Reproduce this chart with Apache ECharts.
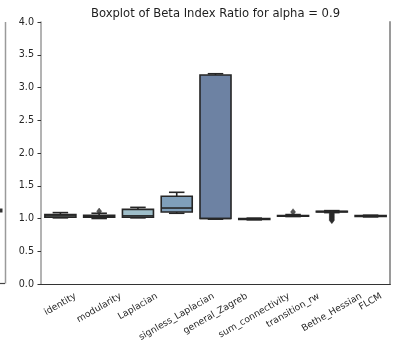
<!DOCTYPE html>
<html>
<head>
<meta charset="utf-8">
<script src="https://cdn.jsdelivr.net/npm/echarts@6/dist/echarts.min.js"></script>
<style>
  html, body { margin: 0; padding: 0; background: #ffffff; }
  #chart { width: 393px; height: 352px; }
</style>
</head>
<body>
<div id="chart"></div>
<script>
// Method names along the x axis
const categories = ['identity', 'modularity', 'Laplacian', 'signless_Laplacian', 'general_Zagreb',
  'sum_connectivity', 'transition_rw', 'Bethe_Hessian', 'FLCM'];

// Five-number summaries per method: [lower whisker, Q1, median, Q3, upper whisker]
const identityStats        = [1.01, 1.02, 1.04, 1.06, 1.09];
const modularityStats      = [1.00, 1.02, 1.03, 1.05, 1.08];
const laplacianStats       = [1.01, 1.02, 1.04, 1.14, 1.17];
const signlessStats        = [1.08, 1.10, 1.16, 1.34, 1.40];
const zagrebStats          = [0.99, 1.00, 1.00, 3.19, 3.21];
const sumConnectivityStats = [0.98, 0.985, 0.99, 1.00, 1.005];
const transitionStats      = [1.03, 1.035, 1.04, 1.045, 1.06];
const betheStats           = [1.09, 1.10, 1.105, 1.11, 1.12];
const flcmStats            = [1.025, 1.03, 1.035, 1.045, 1.05];

// Outlying runs: [category index, ratio]
const modularityOutliers = [[1, 1.11]];
const transitionOutliers = [[6, 1.10]];
const betheOutliers = [[7, 1.08], [7, 1.07], [7, 1.06], [7, 1.05], [7, 1.04], [7, 1.03],
  [7, 1.02], [7, 1.01], [7, 1.00], [7, 0.99], [7, 0.98], [7, 0.97]];

// Box fill colours, light teal-grey to dark indigo
const boxColors = ['#d0e0d8', '#b6cfcd', '#9fbfca', '#7f9fba', '#6d82a3',
  '#5e6c95', '#50537f', '#413c66', '#31294c'];

// Y axis range and tick spacing
const yMin = 0, yMax = 4, yStep = 0.5;

const chartTitle = 'Boxplot of Beta Index Ratio for alpha = 0.9';

const allStats = [identityStats, modularityStats, laplacianStats, signlessStats, zagrebStats,
  sumConnectivityStats, transitionStats, betheStats, flcmStats];
const boxData = allStats.map((s, i) => [i].concat(s));
const outlierData = modularityOutliers.concat(transitionOutliers, betheOutliers);

const EDGE = '#262626';
const FONT = '"DejaVu Sans", sans-serif';

// Box, whiskers, half-width caps and median line for one method
function renderBox(params, api) {
  const i = api.value(0);
  const mn = api.value(1), q1 = api.value(2), md = api.value(3), q3 = api.value(4), mx = api.value(5);
  const cx = api.coord([i, 0])[0];
  const band = api.size([1, 0])[0];
  const bw = band * 0.8;
  const cw = bw / 2;
  const y = v => api.coord([i, v])[1];
  const ls = { stroke: EDGE, lineWidth: 1.6 };
  return {
    type: 'group',
    children: [
      { type: 'line', shape: { x1: cx, y1: y(q3), x2: cx, y2: y(mx) }, style: ls },
      { type: 'line', shape: { x1: cx, y1: y(q1), x2: cx, y2: y(mn) }, style: ls },
      { type: 'line', shape: { x1: cx - cw / 2, y1: y(mx), x2: cx + cw / 2, y2: y(mx) }, style: ls },
      { type: 'line', shape: { x1: cx - cw / 2, y1: y(mn), x2: cx + cw / 2, y2: y(mn) }, style: ls },
      { type: 'rect', shape: { x: cx - bw / 2, y: y(q3), width: bw, height: y(q1) - y(q3) },
        style: { fill: boxColors[i], stroke: EDGE, lineWidth: 1.6 } },
      { type: 'line', shape: { x1: cx - bw / 2, y1: y(md), x2: cx + bw / 2, y2: y(md) }, style: ls }
    ]
  };
}

const chart = echarts.init(document.getElementById('chart'), null, { renderer: 'canvas' });

const option = {
  animation: false,
  backgroundColor: '#ffffff',
  title: {
    text: chartTitle,
    left: 210.5,
    top: 3,
    textAlign: 'center',
    textStyle: { fontFamily: FONT, fontSize: 11.6, fontWeight: 'normal', color: '#1e1e1e' }
  },
  grid: { left: 41, right: 3, top: 22, bottom: 68, containLabel: false },
  xAxis: [
    {
      type: 'category',
      data: categories,
      position: 'bottom',
      axisLine: { lineStyle: { color: '#333333', width: 1.2 } },
      axisTick: { alignWithLabel: true, length: 3.5, lineStyle: { color: '#333333', width: 1 } },
      axisLabel: { show: false },
      splitLine: { show: false }
    },
    {
      type: 'category',
      data: categories,
      position: 'top',
      axisLine: { lineStyle: { color: '#333333', width: 1.2 } },
      axisTick: { show: false },
      axisLabel: { show: false }
    }
  ],
  yAxis: [
    {
      type: 'value',
      min: yMin, max: yMax, interval: yStep,
      position: 'left',
      axisLine: { show: true, lineStyle: { color: '#9a9a9a', width: 1.5 } },
      axisTick: { show: true, length: 3.5, lineStyle: { color: '#333333', width: 1 } },
      axisLabel: { margin: 7, fontFamily: FONT, fontSize: 9.6, color: '#262626',
        formatter: v => v.toFixed(1) },
      splitLine: { show: false }
    },
    {
      type: 'value',
      min: yMin, max: yMax, interval: yStep,
      position: 'right',
      axisLine: { show: true, lineStyle: { color: '#9a9a9a', width: 2 } },
      axisTick: { show: false },
      axisLabel: { show: false },
      splitLine: { show: false }
    }
  ],
  series: [
    {
      type: 'custom',
      renderItem: renderBox,
      data: boxData,
      encode: { x: 0, y: [1, 2, 3, 4, 5] },
      clip: false,
      z: 2
    },
    {
      type: 'scatter',
      data: outlierData,
      symbol: 'diamond',
      symbolSize: [5, 6.5],
      itemStyle: { color: '#2a2a2a', borderColor: '#2a2a2a', borderWidth: 0.5 },
      z: 3
    }
  ]
};

chart.setOption(option);

// Rotated category labels: each label's rotated box is centred under its tick,
// with the box top just below the tick mark.
const measure = document.createElement('canvas').getContext('2d');
const labelSize = 9.2;
measure.font = labelSize + 'px "DejaVu Sans"';
const axisY = chart.convertToPixel({ yAxisIndex: 0 }, 0);
const rot = Math.PI / 6;
const cosR = Math.cos(rot), sinR = Math.sin(rot);
const labelEls = categories.map((name, i) => {
  const tickX = chart.convertToPixel({ xAxisIndex: 0 }, i);
  const w = measure.measureText(name).width;
  const hLayout = labelSize * 1.17;
  const boxH = w * sinR + hLayout * cosR;
  const cy = axisY + 7 + boxH / 2;
  const cx = tickX;
  // top-left corner of the unrotated text box, carried through the rotation
  const hText = labelSize;
  const ox = cx - (w / 2) * cosR - (hText / 2) * sinR;
  const oy = cy + (w / 2) * sinR - (hText / 2) * cosR;
  return {
    type: 'text', x: ox, y: oy, rotation: rot,
    style: { text: name, font: labelSize + 'px ' + FONT, fill: '#262626' }
  };
});

// Edge of the neighbouring panel on the left
const neighbourEls = [
  { type: 'line', shape: { x1: 5.5, y1: 22, x2: 5.5, y2: 283.5 }, style: { stroke: '#9a9a9a', lineWidth: 1.5 } },
  { type: 'line', shape: { x1: 0, y1: 283.5, x2: 5, y2: 283.5 }, style: { stroke: '#444444', lineWidth: 1.2 } },
  { type: 'rect', shape: { x: 0, y: 208.5, width: 2.5, height: 4 }, style: { fill: '#333333' } }
];

chart.setOption({ graphic: { elements: labelEls.concat(neighbourEls) } });
</script>
</body>
</html>
